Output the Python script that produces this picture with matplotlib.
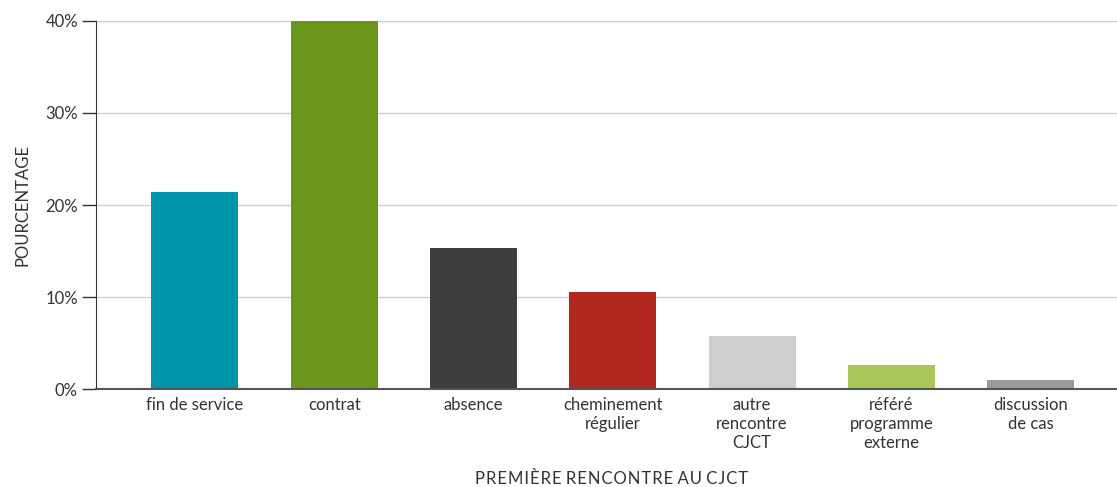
import matplotlib
matplotlib.use("Agg")
import matplotlib.pyplot as plt
from matplotlib.ticker import FuncFormatter

categories = ["fin de service", "contrat", "absence", "cheminement\nrégulier",
              "autre\nrencontre\nCJCT", "référé\nprogramme\nexterne", "discussion\nde cas"]
values = [21.4, 40.0, 15.3, 10.5, 5.8, 2.6, 1.0]
colors = ["#0094A8", "#6A961B", "#3D3D3F", "#B0281F", "#CDCED0", "#A9C758", "#9B9B9D"]
yticks = [0, 10, 20, 30, 40]
x_title = "PREMIÈRE RENCONTRE AU CJCT"

plt.rcParams['font.family'] = ['Lato', 'DejaVu Sans']

fig = plt.figure(figsize=(11.17, 4.87), dpi=100)
ax = fig.add_axes([96/1117, 1-389/487, 1-96/1117, (389-21)/487])

x = list(range(len(categories)))
ax.bar(x, values, width=0.625, color=colors, zorder=3)
ax.set_xlim(-0.71, 6.62)
ax.set_ylim(0, 40)
ax.set_yticks(yticks)
ax.yaxis.set_major_formatter(FuncFormatter(lambda v, p: f"{int(v)}%"))
ax.grid(axis='y', color='#D0D0D0', linewidth=1, zorder=0)
ax.set_xticks(x)
ax.set_xticklabels(categories, fontsize=12, color='#333333', linespacing=1.2)
ax.tick_params(axis='x', length=0, pad=6)
ax.tick_params(axis='y', length=10, width=1, color='#333333', labelsize=12, labelcolor='#333333', pad=3)
for s in ['top', 'right']:
    ax.spines[s].set_visible(False)
ax.spines['left'].set_color('#333333')
ax.spines['bottom'].set_color('#555555')
ax.spines['bottom'].set_linewidth(1.5)
ax.spines['bottom'].set_zorder(4)
ax.set_ylabel("POURCENTAGE", fontsize=12, color='#333333')
ax.yaxis.set_label_coords(-0.064, 0.5)
spaced = " ".join("\u200a".join(w) for w in x_title.split(" "))
fig.text(612/1117, 1-479/487, spaced, fontsize=12, color='#333333', ha='center', va='center')

fig.savefig("out.png", dpi=100)
